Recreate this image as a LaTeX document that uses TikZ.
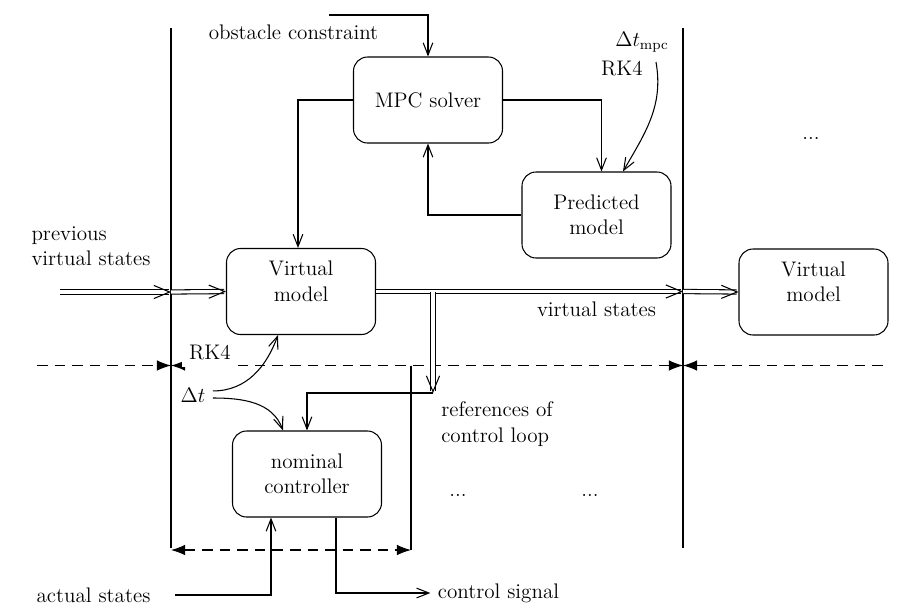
\documentclass[tikz,border=0pt,12pt]{standalone}
\usetikzlibrary{arrows.meta,positioning}

\begin{document}
\begin{tikzpicture}[>={Straight Barb[length=7pt,width=5.5pt]},semithick,
 blk/.style={draw,rounded corners=8pt,align=center,minimum width=2.98cm,minimum height=1.72cm},
 dbl/.style={double,double distance=1.8pt,-{Straight Barb[length=9pt,width=7.5pt]}},
 sep/.style={dash pattern=on 6pt off 4pt},
 tri/.tip={Latex[length=8pt,width=6pt]}]
\useasboundingbox (0,0) rectangle (18.38,-12.14);
% time steps
\coordinate (t0) at (3.42,-0.56);
\coordinate (b0) at (3.42,-10.96);
\coordinate (t1) at (13.66,-0.56);
\coordinate (b1) at (13.66,-10.96);
\draw (t0)--(b0);
\draw (t1)--(b1);
\coordinate (m0) at (3.42,-7.31);
\coordinate (m1) at (13.66,-7.31);
\coordinate (ml) at (0.74,-7.31);
\coordinate (mr) at (17.76,-7.31);
\coordinate (m2) at (8.22,-7.31);
\coordinate (d0) at (3.42,-11.0);
\coordinate (d1) at (8.22,-11.0);
\draw (m2)--(d1);
\draw[sep,-tri] (ml)--(m0);
\draw[sep,tri-tri] (m0)--(m1);
\draw[sep,tri-] (m1)--(mr);
\draw[sep,tri-tri] (d0)--(d1);

\node[blk] (mpc) at (8.56,-2.0) {MPC solver};
\node[blk] (pred) at (11.93,-4.3) {Predicted\\model};
\node[blk] (vm) at (6.02,-5.83) {Virtual\\model\\[-3pt]\mbox{}};
\node[blk] (vm2) at (16.27,-5.84) {Virtual\\model\\[-3pt]\mbox{}};
\node[blk] (nc) at (6.14,-9.48) {nominal\\controller};

% mpc loop
\node (obs) at (5.87,-0.64) {obstacle constraint};
\coordinate (obsin) at (6.58,-0.30);
\draw[->] (obsin) -| (mpc.north);
\draw[->] (mpc.west) -| ([xshift=-0.6mm]vm.north);
\draw[->] (mpc.east) -| ([xshift=1mm]pred.north);
\draw[->] (pred.west) -| (mpc.south);
\node (dtm) at (12.84,-0.84) {$\Delta t_{\mathrm{mpc}}$};
\node (rkm) at (12.44,-1.37) {RK4};
\coordinate (c1) at (13.12,-1.24);
\draw[->] (c1) to[out=-80,in=60] ([xshift=5.3mm]pred.north);

% virtual states
\node[align=left] (prev) at (1.82,-4.92) {previous\\virtual states};
\coordinate (p0) at (1.2,-5.84);
\draw[dbl] (p0)--(p0-|t0);
\draw[dbl] (p0-|t0)--(vm.west);
\draw[dbl] (vm.east)--(vm.east-|t1);
\draw[dbl] (vm.east-|t1)--(vm2.west);
\node (vs) at (11.93,-6.18) {virtual states};
\coordinate (r0) at (8.66,-5.84);
\coordinate (r1) at (8.66,-7.86);
\draw[dbl] (r0)--(r1);
\draw[->] (r1) -| (nc.north);
\node[align=left] (ref) at (9.94,-8.48) {references of\\control loop};

% control loop
\node[fill=white] (rk) at (4.2,-7.06) {RK4};
\node (dt) at (3.86,-7.9) {$\Delta t$};
\draw[->] ([yshift=2.3pt]dt.east) to[out=0,in=-110] ([xshift=-4.6mm]vm.south);
\draw[->] ([yshift=-1.7pt]dt.east) to[out=0,in=110] ([xshift=-4.8mm]nc.north);
\node (act) at (1.87,-11.9) {actual states};
\draw[->] ([xshift=3.5mm]act.east) -| ([xshift=-7.2mm]nc.south);
\node (sig) at (9.97,-11.86) {control signal};
\draw[->] ([xshift=5.8mm]nc.south) |- (sig.west);

\node (dots1) at (16.22,-2.76) {...};
\node (dots2) at (9.16,-9.9) {...};
\node (dots3) at (11.8,-9.9) {...};
\end{tikzpicture}
\end{document}
